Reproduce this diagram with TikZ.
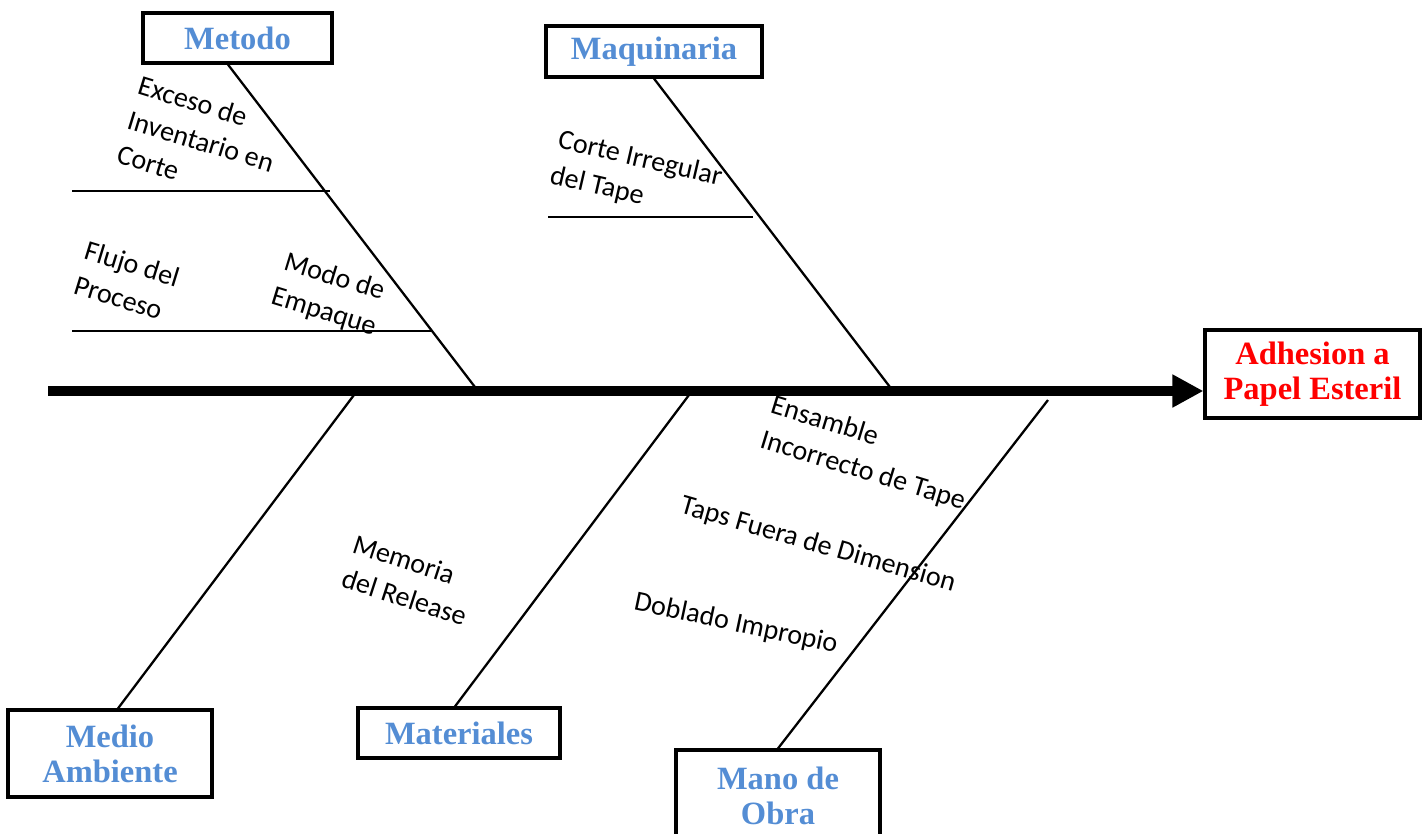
\documentclass[tikz,border=0pt]{standalone}
\usepackage{fontspec}
\setmainfont{Liberation Serif}
\newfontfamily\calibri{Carlito}
\usepackage{xcolor}
\usetikzlibrary{arrows.meta, positioning}
\definecolor{catblue}{RGB}{84,141,212}
\tikzset{
  catbox/.style={draw, line width=1.8pt, align=center, text=catblue, inner sep=2pt,
                 font=\fontsize{18.5}{20}\selectfont\bfseries},
  effectbox/.style={catbox, text=red},
  spine/.style={line width=5.7pt, -{Triangle[length=0.62cm, width=0.62cm]}},
  bone/.style={line width=1.3pt},
  subbone/.style={line width=0.8pt},
  causelabel/.style={font=\calibri\fontsize{16}{20.5}\selectfont, rotate=-17, inner sep=0pt}
}

\begin{document}
\begin{tikzpicture}[x=0.02cm, y=-0.02cm]
\useasboundingbox (0,0) rectangle (1428,833);

% Effect
\node[effectbox, minimum width=4.3cm, minimum height=1.76cm] (effect) at (1312.5,374) {Adhesion a\\Papel Esteril};

% Categories
\node[catbox, minimum width=3.78cm, minimum height=1cm]  (metodo) at (237.5,38)  {Metodo};
\node[catbox, minimum width=4.32cm, minimum height=1.02cm] (maquina) at (654,51.5) {Maquinaria};
\node[catbox, minimum width=4.08cm, minimum height=1.74cm] (medio) at (110,753.5) {Medio\\Ambiente};
\node[catbox, minimum width=4.04cm, minimum height=1cm]  (material) at (459,733) {Materiales};
\node[catbox, minimum width=4.08cm, minimum height=1.84cm] (mano) at (778,796) {Mano de\\Obra};

% Spine
\coordinate (tail) at (48,391);
\draw[spine] (tail) -- (tail -| effect.west);

% Bones
\coordinate (bmetodo) at (478,391);
\coordinate (bmaquina) at (893,391);
\coordinate (bmedio) at (357,391);
\coordinate (bmaterial) at (692,391);
\coordinate (bmano) at (1048,400);
\draw[bone] ([xshift=-0.19cm]metodo.south) -- (bmetodo);
\draw[bone] (maquina.south) -- (bmaquina);
\draw[bone] ([xshift=0.16cm]medio.north) -- (bmedio);
\draw[bone] ([xshift=-0.08cm]material.north) -- (bmaterial);
\draw[bone] (mano.north) -- (bmano);

% Sub-causes
\coordinate (s1a) at (72,191);  \coordinate (s1b) at (330,191);
\coordinate (s2a) at (72,331);  \coordinate (s2b) at (433,331);
\coordinate (s3a) at (548,217); \coordinate (s3b) at (753,217);
\draw[subbone] (s1a) -- (s1b);
\draw[subbone] (s2a) -- (s2b);
\draw[subbone] (s3a) -- (s3b);

% Labels
\node[causelabel, align=left]   (exceso)   at (201,141) {Exceso de\\Inventario en\\Corte};
\node[causelabel, align=left]   (flujo)    at (127,281) {Flujo del\\Proceso};
\node[causelabel, align=center] (modo)     at (329,295) {Modo de\\Empaque};
\node[causelabel, align=left, rotate=4] (corte) at (636,177) {Corte Irregular\\del Tape};
\node[causelabel, align=left, rotate=-1] (memoria) at (410,580) {Memoria\\del Release};
\node[causelabel, align=left]   (ensamble) at (868,454) {Ensamble\\Incorrecto de Tape};
\node[causelabel, rotate=1]     (taps)     at (818,545) {Taps Fuera de Dimension};
\node[causelabel, rotate=5]     (doblado)  at (736,624) {Doblado Impropio};

\end{tikzpicture}
\end{document}
